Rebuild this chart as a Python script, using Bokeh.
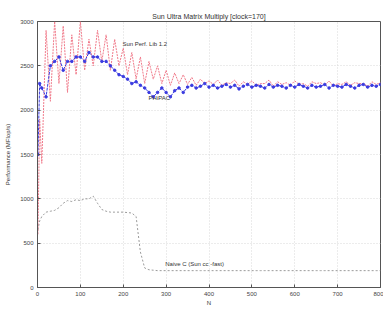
from bokeh.plotting import figure
from bokeh.models import Label, FixedTicker
from bokeh.embed import file_html
from bokeh.resources import INLINE

title_text = "Sun Ultra Matrix Multiply [clock=170]"
x_label = "N"
y_label = "Performance (MFlop/s)"
x_ticks = [0, 100, 200, 300, 400, 500, 600, 700, 800]
y_ticks = [0, 500, 1000, 1500, 2000, 2500, 3000]

n_vals = [1, 5, 10, 20, 30, 40, 50, 60, 70, 80, 90, 100, 110, 120, 130, 140, 150,
          160, 170, 180, 190, 200, 210, 220, 230, 240, 250, 260, 270, 280, 290, 300,
          310, 320, 330, 340, 350, 360, 370, 380, 390, 400, 410, 420, 430, 440, 450,
          460, 470, 480, 490, 500, 510, 520, 530, 540, 550, 560, 570, 580, 590, 600,
          610, 620, 630, 640, 650, 660, 670, 680, 690, 700, 710, 720, 730, 740, 750,
          760, 770, 780, 790, 800]

sun_perf = [600, 1900, 1400, 2900, 2100, 3000, 2300, 2950, 2200, 2850, 2400, 3000,
            2450, 2800, 2500, 2900, 2550, 2850, 2450, 2800, 2500, 2700, 2400, 2650,
            2350, 2600, 2300, 2550, 2350, 2500, 2300, 2450, 2280, 2420, 2300, 2400,
            2290, 2370, 2280, 2350, 2300, 2330, 2290, 2340, 2280, 2310, 2300, 2340,
            2270, 2320, 2290, 2330, 2280, 2300, 2300, 2340, 2270, 2320, 2290, 2310,
            2280, 2330, 2290, 2300, 2270, 2320, 2300, 2310, 2280, 2330, 2270, 2300,
            2290, 2320, 2280, 2310, 2300, 2300, 2270, 2320, 2290, 2310]

phipac = [1500, 2300, 2250, 2150, 2500, 2550, 2600, 2450, 2550, 2550, 2600, 2600,
          2550, 2650, 2600, 2600, 2550, 2550, 2500, 2450, 2400, 2380, 2350, 2300,
          2320, 2280, 2250, 2200, 2150, 2200, 2250, 2200, 2150, 2220, 2250, 2200,
          2260, 2280, 2250, 2270, 2300, 2260, 2280, 2250, 2270, 2290, 2260, 2280,
          2240, 2270, 2290, 2260, 2280, 2270, 2250, 2290, 2260, 2280, 2270, 2250,
          2280, 2260, 2290, 2270, 2250, 2280, 2260, 2270, 2290, 2250, 2280, 2270,
          2260, 2290, 2270, 2250, 2280, 2290, 2260, 2280, 2270, 2290]

naive_c = [650, 750, 800, 850, 860, 870, 900, 950, 980, 970, 990, 980, 1000, 1000,
           1030, 950, 880, 860, 850, 850, 850, 850, 845, 840, 800, 400, 220, 200,
           195, 190, 190, 190, 190, 190, 190, 190, 190, 190, 190, 190, 190, 190, 190,
           190, 190, 190, 190, 190, 190, 190, 190, 190, 190, 190, 190, 190, 190, 190,
           190, 190, 190, 190, 190, 190, 190, 190, 190, 190, 190, 190, 190, 190, 190,
           190, 190, 190, 190, 190, 190, 190, 190, 190]

p = figure(width=383, height=308, x_range=(0, 800), y_range=(0, 3000),
           output_backend="svg", toolbar_location=None,
           min_border_left=37, min_border_right=3, min_border_top=21,
           min_border_bottom=21)

p.title.text = title_text
p.title.align = "center"
p.title.text_font = "Liberation Sans"
p.title.text_font_size = "7px"
p.title.text_font_style = "normal"
p.title.text_color = "#333333"
p.title.standoff = 4

p.outline_line_color = "#555555"
p.background_fill_color = "white"
p.border_fill_color = "white"

for ax in (p.xaxis[0], p.yaxis[0]):
    ax.major_label_text_font = "Liberation Sans"
    ax.major_label_text_font_size = "6px"
    ax.major_label_text_color = "#444444"
    ax.axis_label_text_font = "Liberation Sans"
    ax.axis_label_text_font_size = "6px"
    ax.axis_label_text_font_style = "normal"
    ax.axis_label_text_color = "#333333"
    ax.axis_line_color = "#555555"
    ax.major_tick_line_color = "#555555"
    ax.major_tick_in = 3
    ax.major_tick_out = 0
    ax.minor_tick_line_color = None
    ax.major_label_standoff = 4

p.xaxis.axis_label = x_label
p.yaxis.axis_label = y_label
p.xaxis.axis_label_standoff = 1
p.yaxis.axis_label_standoff = 6
p.xaxis.ticker = FixedTicker(ticks=x_ticks)
p.yaxis.ticker = FixedTicker(ticks=y_ticks)

p.xgrid.grid_line_color = "#d8d8d8"
p.ygrid.grid_line_color = "#d8d8d8"
p.xgrid.grid_line_dash = "1 2"
p.ygrid.grid_line_dash = "1 2"
p.xgrid.ticker = FixedTicker(ticks=x_ticks)
p.ygrid.ticker = FixedTicker(ticks=y_ticks)

p.line(n_vals, naive_c, line_color="#9a9a9a", line_width=1, line_dash="2 2")
p.line(n_vals, sun_perf, line_color="#f07a8a", line_width=1, line_dash="2 1")
p.line(n_vals, phipac, line_color="#3a3ae0", line_width=1, line_dash="3 1")
p.scatter(n_vals, phipac, size=2.5, color="#3a3ae0")

for txt, xx, yy in [("Sun Perf. Lib 1.2", 198, 2750), ("PHiPAC", 259, 2140),
                    ("Naive C (Sun cc -fast)", 298, 260)]:
    p.add_layout(Label(x=xx, y=yy, text=txt, text_font="Liberation Sans",
                       text_font_size="6px", text_color="#333333",
                       text_baseline="middle"))

open("out.html", "w").write(file_html(p, INLINE))
